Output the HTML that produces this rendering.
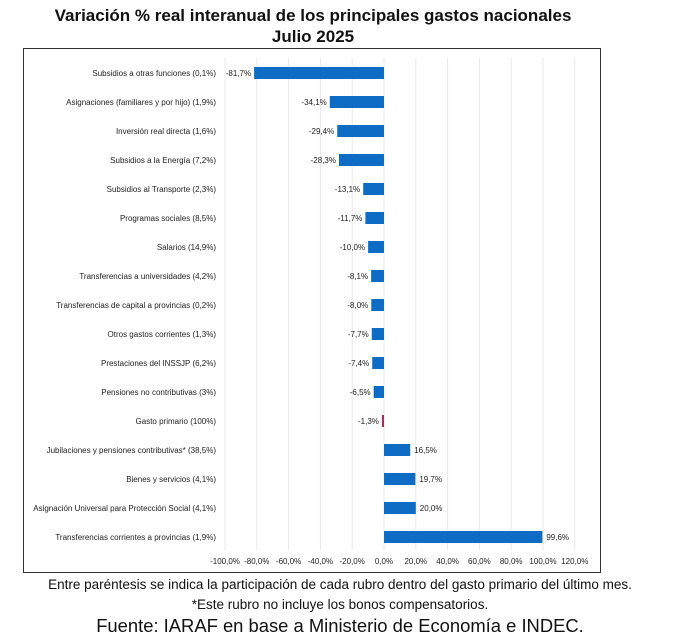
<!DOCTYPE html>
<html><head><meta charset="utf-8"><style>
body{margin:0;background:#fff;width:680px;height:640px;overflow:hidden;font-family:"Liberation Sans",sans-serif;position:relative}
.t{position:absolute;left:0;width:626px;text-align:center;font-weight:bold;font-size:17px;color:#111}
.f{position:absolute;left:0;width:680px;text-align:center;color:#111}
</style></head><body>
<div class="t" style="top:6px">Variación % real interanual de los principales gastos nacionales</div>
<div class="t" style="top:27px">Julio 2025</div>
<svg style="position:absolute;left:0;top:0" width="680" height="640" font-family="Liberation Sans, sans-serif">
<rect x="23.5" y="48.5" width="577" height="524" fill="none" stroke="#333" stroke-width="1"/>
<g id="bars"></g>
</svg>
<div class="f" style="top:577px;font-size:13.5px">Entre paréntesis se indica la participación de cada rubro dentro del gasto primario del último mes.</div>
<div class="f" style="top:597px;font-size:13.5px">*Este rubro no incluye los bonos compensatorios.</div>
<div class="f" style="top:615px;font-size:18.4px;left:0">Fuente: IARAF en base a Ministerio de Economía e INDEC.</div>
<script>
var d=[["Subsidios a otras funciones (0,1%)",-81.7],["Asignaciones (familiares y por hijo) (1,9%)",-34.1],["Inversión real directa (1,6%)",-29.4],["Subsidios a la Energía (7,2%)",-28.3],["Subsidios al Transporte (2,3%)",-13.1],["Programas sociales (8,5%)",-11.7],["Salarios (14,9%)",-10.0],["Transferencias a universidades (4,2%)",-8.1],["Transferencias de capital a provincias (0,2%)",-8.0],["Otros gastos corrientes (1,3%)",-7.7],["Prestaciones del INSSJP (6,2%)",-7.4],["Pensiones no contributivas (3%)",-6.5],["Gasto primario (100%)",-1.3],["Jubilaciones y pensiones contributivas* (38,5%)",16.5],["Bienes y servicios (4,1%)",19.7],["Asignación Universal para Protección Social (4,1%)",20.0],["Transferencias corrientes a provincias (1,9%)",99.6]];
var z=384,k=1.59,s="";
for(var v=-100;v<=120;v+=20){var x=z+v*k;s+='<line x1="'+x+'" y1="58" x2="'+x+'" y2="550" stroke="#e8e8e8"/>';s+='<text x="'+x+'" y="564" font-size="8" text-anchor="middle" fill="#222">'+v.toFixed(1).replace(".",",")+'%</text>';}
d.forEach(function(r,i){var y=73+i*29,w=Math.abs(r[1])*k,x=r[1]<0?z-w:z;var c=r[1]==-1.3?"#a03060":"#0e6cc4";
s+='<text x="216" y="'+(y+3)+'" font-size="8" text-anchor="end" fill="#222">'+r[0]+'</text>';
s+='<rect x="'+x+'" y="'+(y-6)+'" width="'+Math.max(w,1.5)+'" height="12" fill="'+c+'"/>';
var lbl=r[1].toFixed(1).replace(".",",")+"%";
if(r[1]<0)s+='<text x="'+(x-3)+'" y="'+(y+3)+'" font-size="8" text-anchor="end" fill="#222">'+lbl+'</text>';
else s+='<text x="'+(x+w+4)+'" y="'+(y+3)+'" font-size="8" fill="#222">'+lbl+'</text>';});
document.getElementById("bars").innerHTML=s;
</script>
</body></html>
